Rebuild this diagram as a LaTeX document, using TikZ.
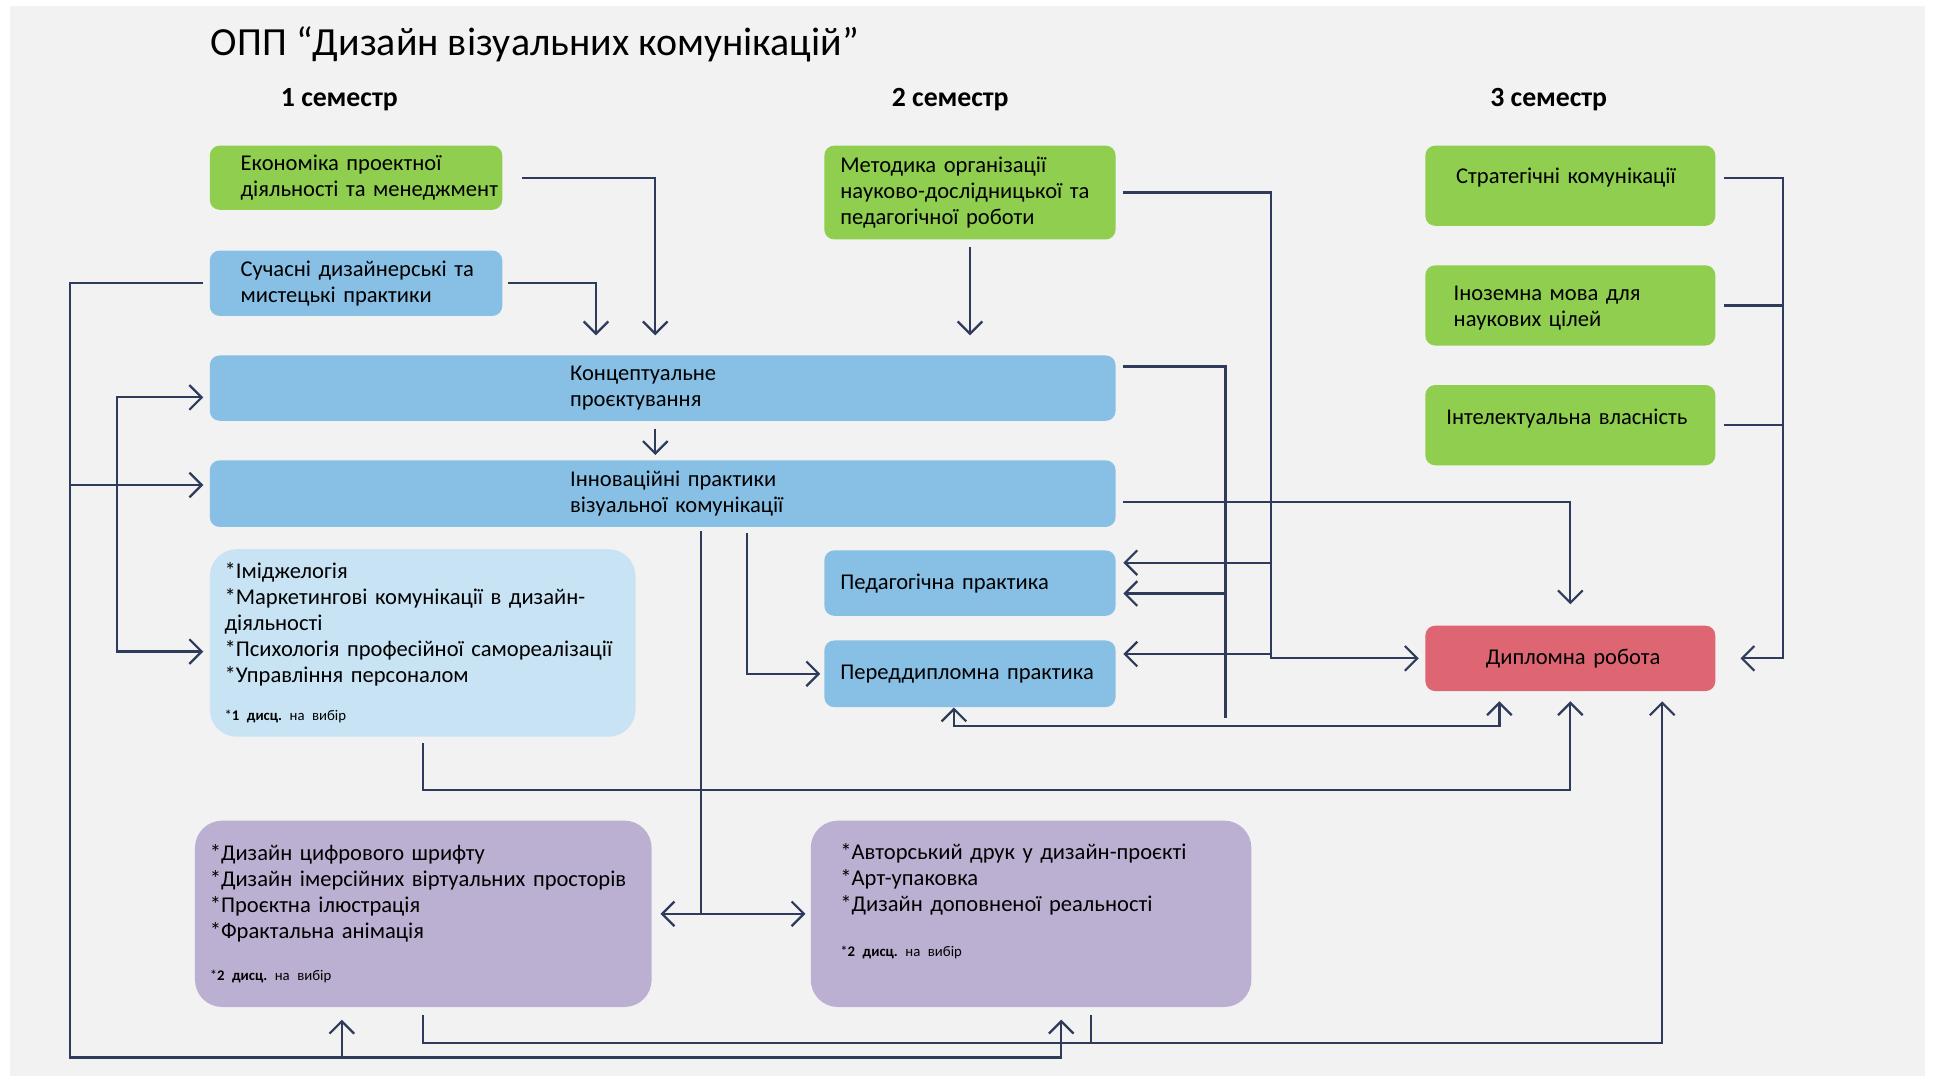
\documentclass[tikz,border=0pt]{standalone}
\usepackage{fontspec}
\setmainfont{Carlito}
\usetikzlibrary{arrows.meta,calc}

\definecolor{bggrey}{HTML}{F2F2F2}
\definecolor{boxgreen}{HTML}{8FCE4F}
\definecolor{boxblue}{HTML}{88C0E5}
\definecolor{boxpale}{HTML}{C8E3F4}
\definecolor{boxlilac}{HTML}{BCB0D2}
\definecolor{boxred}{HTML}{DE6673}
\definecolor{linkcol}{HTML}{2E3B5B}

\newcommand{\boxfont}{\fontsize{13}{15}\selectfont}
\newcommand{\notefont}{\fontsize{8.5}{10}\selectfont}
\newcommand{\picknote}[1]{{\notefont *\textbf{#1~дисц.}\ на вибір}}

\begin{document}
\begin{tikzpicture}
    [ x=0.25mm, y=-0.25mm,
      box/.style = {
        shape=rectangle, rounded corners=2mm,
        align=left, inner ysep=0pt, font=\boxfont
      },
      greenbox/.style = {box, fill=boxgreen},
      bluebox/.style = {box, fill=boxblue},
      pick/.style = {box, rounded corners=5.5mm},
      sem/.style = {font=\fontsize{16}{18}\selectfont\bfseries},
      link/.style = {draw=linkcol, line width=0.45mm},
      arr/.style = {link, -{Straight Barb[length=2.5mm,width=5mm]}},
      twoway/.style = {link, {Straight Barb[length=2.5mm,width=5mm]}-{Straight Barb[length=2.5mm,width=5mm]}}]
      \useasboundingbox (0,0) rectangle (1568,875);
      \fill[white] (0,0) rectangle (1568,875);
      \fill[bggrey] (8,5) rectangle (1560,872);

      % headings
      \node [anchor=west, font=\fontsize{23}{27}\selectfont] (title) at (166,36)
        {ОПП “Дизайн візуальних комунікацій”};
      \node [sem] (sem1) at (275,81) {1 семестр};
      \node [sem] (sem2) at (770,81) {2 семестр};
      \node [sem] (sem3) at (1255,81) {3 семестр};

      % 1 semester
      \node [greenbox, minimum width=59.25mm, minimum height=13mm, text width=46.75mm, inner xsep=6.25mm]
        (econ) at (288.5,144) {Економіка проектної\\діяльності~та~менеджмент};
      \node [bluebox, minimum width=59.25mm, minimum height=13.25mm, text width=46.75mm, inner xsep=6.25mm]
        (such) at (288.5,229.5) {Сучасні~дизайнерські~та\\мистецькі практики};
      \node [bluebox, minimum width=183.5mm, minimum height=13.25mm, text width=37.5mm, inner xsep=73mm]
        (konc) at (537,314.5) {Концептуальне\\проєктування};
      \node [bluebox, minimum width=183.5mm, minimum height=13.5mm, text width=37.5mm, inner xsep=73mm]
        (innov) at (537,400) {Інноваційні~практики\\візуальної~комунікації};
      \node [pick, fill=boxpale, minimum width=86.25mm, minimum height=38mm, text width=80.25mm, inner xsep=3mm]
        (elect) at (342.5,521)
        {*Іміджелогія\\\relax
         *Маркетингові комунікації в~дизайн-\\діяльності\\\relax
         *Психологія~професійної~самореалізації\\\relax
         *Управління персоналом\\[7pt]
         \picknote{1}};

      % 2 semester
      \node [greenbox, minimum width=59mm, minimum height=19mm, text width=52.5mm, inner xsep=3.25mm]
        (metod) at (786,156) {Методика організації\\науково-дослідницької~та\\педагогічної роботи};
      \node [bluebox, minimum width=59mm, minimum height=13.25mm, text width=52.5mm, inner xsep=3.25mm]
        (ped) at (786,472.5) {Педагогічна практика};
      \node [bluebox, minimum width=59mm, minimum height=13.5mm, text width=52.5mm, inner xsep=3.25mm]
        (perd) at (786,546) {Переддипломна практика};

      % 3 semester
      \node [greenbox, minimum width=58.75mm, minimum height=16.25mm, text width=46.25mm, inner xsep=6.25mm,
        text depth=12pt] (strat) at (1272.5,150.5) {Стратегічні~комунікації};
      \node [greenbox, minimum width=58.75mm, minimum height=16.25mm, text width=47.25mm, inner xsep=5.75mm,
        text depth=14pt] (inoz) at (1272.5,247.5) {Іноземна мова для\\наукових цілей};
      \node [greenbox, minimum width=58.75mm, minimum height=16.25mm, text width=50.25mm, inner xsep=4.25mm,
        text depth=10pt] (intel) at (1272.5,344.5) {Інтелектуальна~власність};
      \node [box, fill=boxred, minimum width=58.75mm, minimum height=13.25mm, text width=34.25mm, inner xsep=12.25mm]
        (dipl) at (1272.5,533.5) {Дипломна~робота};

      % electives
      \node [pick, fill=boxlilac, minimum width=92.5mm, minimum height=37.75mm, text width=86.5mm, inner xsep=3mm]
        (purp1) at (343,740.5)
        {*Дизайн цифрового шрифту\\\relax
         *Дизайн~імерсійних~віртуальних~просторів\\\relax
         *Проєктна ілюстрація\\\relax
         *Фрактальна анімація\\[9pt]
         \picknote{2}};
      \node [pick, fill=boxlilac, minimum width=89.25mm, minimum height=37.75mm, text width=77.25mm, inner xsep=6mm]
        (purp2) at (835.5,740.5)
        {*Авторський~друк~у~дизайн-проєкті\\\relax
         *Арт-упаковка\\\relax
         *Дизайн доповненої реальності\\[11pt]
         \picknote{2}\\[1pt]\mbox{}};

      % bus corners
      \coordinate (busL) at (57,857);
      \coordinate (busB) at (95,528);
      \coordinate (busM) at (1030,533.5);
      \coordinate (kEnd) at (993,582);
      \coordinate (busS) at (1445,533.5);
      \coordinate (busP) at (1000,588);
      \coordinate (busE) at (1000,640);
      \coordinate (busD) at (1000,845);
      \coordinate (hubP) at (568,740.5);

      % into Концептуальне проєктування
      \draw [arr, shorten <=4mm, shorten >=4mm] (econ.east) -| (konc.north -| 531,0);
      \draw [arr, shorten <=1mm, shorten >=4mm] (such.east) -| (konc.north -| 483,0);
      \draw [arr, shorten <=1.5mm, shorten >=4mm] (metod.south) -- (konc.north -| metod.south);
      \draw [arr, shorten <=1.5mm, shorten >=1mm] (konc.south -| 531,0) -- (innov.north -| 531,0);

      % left side
      \draw [arr, shorten <=1.25mm, shorten >=2.5mm] (such.west) -| (busL) -| (purp2.south -| 860,0);
      \draw [arr, shorten >=1.25mm] (busL |- innov.west) ++(0,-7) -- ($(innov.west)+(0,-7)$);
      \draw [arr, shorten >=2.5mm] (busL -| 277,0) -- (purp1.south -| 277,0);
      \draw [twoway, shorten <=1.25mm, shorten >=1.25mm] ($(konc.west)+(0,7.5)$) -| (busB) -- (elect.west |- busB);

      % 2 semester links
      \draw [arr, shorten <=1.5mm, shorten >=1.25mm] (metod.east) -| (busM) -- (dipl.west);
      \draw [arr, shorten >=1.5mm] (busM |- 0,456) -- ($(ped.east)+(0,-16.5)$);
      \draw [arr, shorten >=1.5mm] (busM |- 0,530) -- ($(perd.east)+(0,-16)$);
      \draw [link, shorten <=1.5mm] ($(konc.east)+(0,-17.5)$) -| (kEnd);
      \draw [arr, shorten >=1.5mm] (kEnd |- 0,481) -- ($(ped.east)+(0,8.5)$);
      \draw [arr, shorten <=1.5mm, shorten >=4.25mm] ($(innov.east)+(0,7)$) -| (dipl.north);
      \draw [arr, shorten <=1.25mm, shorten >=0.75mm] (innov.south -| 605,0) |- (perd.west);
      \draw [twoway, shorten <=0mm, shorten >=2mm] (perd.south -| 773,0) |- (busP) -| (dipl.south -| 1215,0);
      \draw [arr, shorten <=1.25mm, shorten >=2mm] (elect.south) |- (busE) -| (dipl.south);

      % 3 semester
      \draw [arr, shorten <=1.75mm, shorten >=5mm] ($(strat.east)+(0,-6.5)$) -| (busS) -- (dipl.east);
      \draw [link, shorten <=1.75mm] (inoz.east) -- (inoz.east -| busS);
      \draw [link, shorten <=1.75mm] (intel.east) -- (intel.east -| busS);

      % electives
      \draw [link, shorten <=0.75mm] (innov.south -| hubP) -- (hubP);
      \draw [twoway, shorten <=1.75mm, shorten >=1mm] (purp1.east) -- (purp2.west);
      \draw [arr, shorten <=1.5mm, shorten >=2mm] (purp1.south) |- (busD) -| (dipl.south -| 1347,0);
      \draw [link, shorten <=1.5mm] (purp2.south -| 884,0) -- (busD -| 884,0);
  \end{tikzpicture}
\end{document}
